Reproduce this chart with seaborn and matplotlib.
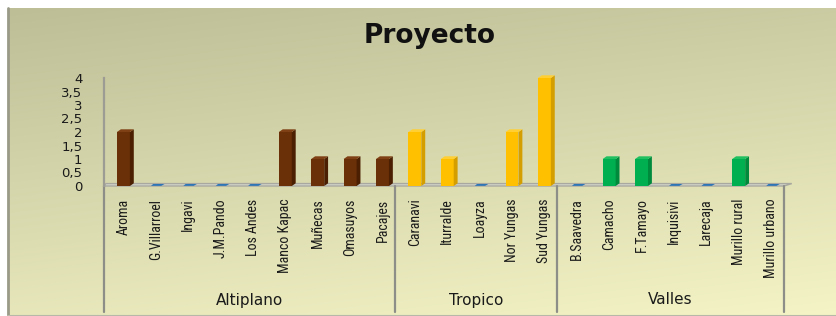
import numpy as np
import pandas as pd
import matplotlib
matplotlib.use("Agg")
import matplotlib.pyplot as plt
import seaborn as sns
from matplotlib import font_manager as fm
from matplotlib.patches import Polygon
from matplotlib.transforms import blended_transform_factory

# ---------------- data ----------------
categories = ["Aroma", "G.Villarroel", "Ingavi", "J.M.Pando", "Los Andes",
              "Manco Kapac", "Muñecas", "Omasuyos", "Pacajes",
              "Caranavi", "Iturralde", "Loayza", "Nor Yungas", "Sud Yungas",
              "B.Saavedra", "Camacho", "F.Tamayo", "Inquisivi", "Larecaja",
              "Murillo rural", "Murillo urbano"]
values = [2, 0, 0, 0, 0, 2, 1, 1, 1,
          2, 1, 0, 2, 4,
          0, 1, 1, 0, 0, 1, 0]
regions = ["Altiplano"] * 9 + ["Tropico"] * 5 + ["Valles"] * 7
region_names = ["Altiplano", "Tropico", "Valles"]
y_ticks = [0, 0.5, 1, 1.5, 2, 2.5, 3, 3.5, 4]
y_tick_labels = ["0", "0,5", "1", "1,5", "2", "2,5", "3", "3,5", "4"]
title = "Proyecto"

front_colors = {"Altiplano": "#6A3008", "Tropico": "#FFC000", "Valles": "#00B050"}
side_colors = {"Altiplano": "#4A1F02", "Tropico": "#D49E00", "Valles": "#008A3C"}
top_colors = {"Altiplano": "#7E4014", "Tropico": "#FFCF33", "Valles": "#20C060"}
zero_color = "#2E75B6"

df = pd.DataFrame({"cat": categories, "val": values, "region": regions})


def pick(names):
    for n in names:
        try:
            fp = fm.FontProperties(family=n)
            fm.findfont(fp, fallback_to_default=False)
            return n
        except Exception:
            pass
    return "DejaVu Sans"


narrow_font = pick(["Liberation Sans Narrow", "Roboto Condensed",
                    "Open Sans Condensed", "Noto Sans Condensed"])

sns.set_style("white")
plt.rcParams["font.family"] = ["DejaVu Sans"]

W, H = 837, 316
fig = plt.figure(figsize=(W / 100, H / 100), dpi=100)
fig.patch.set_facecolor("white")

# ---------------- background gradient ----------------
bg = fig.add_axes([8 / W, 0, 1 - 8 / W, 1 - 8 / H])
bg.set_zorder(0)
yy, xx = np.mgrid[0:1:200j, 0:1:400j]
t = 0.75 * yy + 0.25 * xx
c0 = np.array([189, 190, 150]) / 255.0
c1 = np.array([244, 244, 198]) / 255.0
img = c0[None, None, :] * (1 - t[..., None]) + c1[None, None, :] * t[..., None]
bg.imshow(img, aspect="auto", extent=[0, 1, 1, 0])
bg.set_xlim(0, 1)
bg.set_ylim(1, 0)
bg.axis("off")
bg.plot([0, 0], [1, 0], color="#9A9A88", lw=2, transform=bg.transAxes, clip_on=False)
bg.plot([0, 1], [0, 0], color="#B8B8A8", lw=1.5, transform=bg.transAxes, clip_on=False)

# ---------------- main axes ----------------
left_px, right_px, top_px, bot_px = 104, 784, 78, 186
ax = fig.add_axes([left_px / W, 1 - bot_px / H, (right_px - left_px) / W, (bot_px - top_px) / H])
ax.set_zorder(2)
ax.patch.set_alpha(0)

sns.barplot(data=df, x="cat", y="val", hue="region", hue_order=region_names,
            palette=front_colors, dodge=False, width=0.4, legend=False,
            saturation=1, ax=ax, order=categories, zorder=3,
            linewidth=0, edgecolor="none")

ax.set_xlim(-0.6, 20.4)
ax.set_ylim(0, 4)

# 3D-like floor
dx, dy = 0.2, 0.09
floor = Polygon([(-0.6, 0), (20.4, 0), (20.4 + dx * 1.2, dy), (-0.6 + dx * 0.3, dy)],
                closed=True, facecolor="#D6D8CC", edgecolor="#A8A8A0", lw=1,
                zorder=1, clip_on=False)
bar_patches = list(ax.patches)
ax.add_patch(floor)

# 3D faces for bars
bdx, bdy = 0.12, 0.1
for p in bar_patches:
    x0 = p.get_x()
    w = p.get_width()
    h = p.get_height()
    if w <= 0:
        continue
    fc = p.get_facecolor()
    reg = None
    for r, c in front_colors.items():
        if np.allclose(matplotlib.colors.to_rgba(c), fc, atol=0.02):
            reg = r
    if h <= 0:
        ax.add_patch(Polygon([(x0 + 0.05, 0.005), (x0 + w - 0.03, 0.005),
                              (x0 + w + bdx - 0.05, 0.005 + bdy * 0.7),
                              (x0 + bdx, 0.005 + bdy * 0.7)],
                             closed=True, facecolor=zero_color, edgecolor="none",
                             zorder=4, clip_on=False))
        continue
    if reg is None:
        continue
    ax.add_patch(Polygon([(x0 + w, 0), (x0 + w + bdx, bdy), (x0 + w + bdx, h + bdy), (x0 + w, h)],
                         closed=True, facecolor=side_colors[reg], edgecolor="none",
                         zorder=3, clip_on=False))
    ax.add_patch(Polygon([(x0, h), (x0 + w, h), (x0 + w + bdx, h + bdy), (x0 + bdx, h + bdy)],
                         closed=True, facecolor=top_colors[reg], edgecolor="none",
                         zorder=3, clip_on=False))

# spines
for s in ["top", "right", "bottom"]:
    ax.spines[s].set_visible(False)
ax.spines["left"].set_color("#9C9C94")
ax.spines["left"].set_linewidth(1.6)

ax.set_yticks(y_ticks)
ax.set_yticklabels(y_tick_labels, fontsize=9.5, color="#1A1A1A")
ax.tick_params(axis="y", length=0, pad=15.5)
ax.tick_params(axis="x", length=0, pad=9)
ax.set_xticks(range(len(categories)))
ax.set_xticklabels(categories, rotation=90, fontsize=10, family=narrow_font,
                   color="#1A1A1A")
ax.set_xlabel("")
ax.set_ylabel("")

# group separators and labels
trans = blended_transform_factory(ax.transData, ax.transAxes)
depth = (312 - bot_px) / (bot_px - top_px)
bounds = [-0.6, 8.4, 13.4, 20.4]
for b in bounds:
    ax.plot([b, b], [0, -depth], color="#8E8E88", lw=1.6, transform=trans, clip_on=False, zorder=1)
label_y = -(300 - bot_px) / (bot_px - top_px)
for i, name in enumerate(region_names):
    xc = (bounds[i] + bounds[i + 1]) / 2
    ax.text(xc, label_y, name, transform=trans, ha="center", va="center",
            fontsize=11, color="#1A1A1A")

fig.text(430 / W, 1 - 36 / H, title, ha="center", va="center",
         fontsize=19, fontweight="bold", color="#111111")

fig.savefig("out.png", dpi=100, facecolor=fig.get_facecolor())
